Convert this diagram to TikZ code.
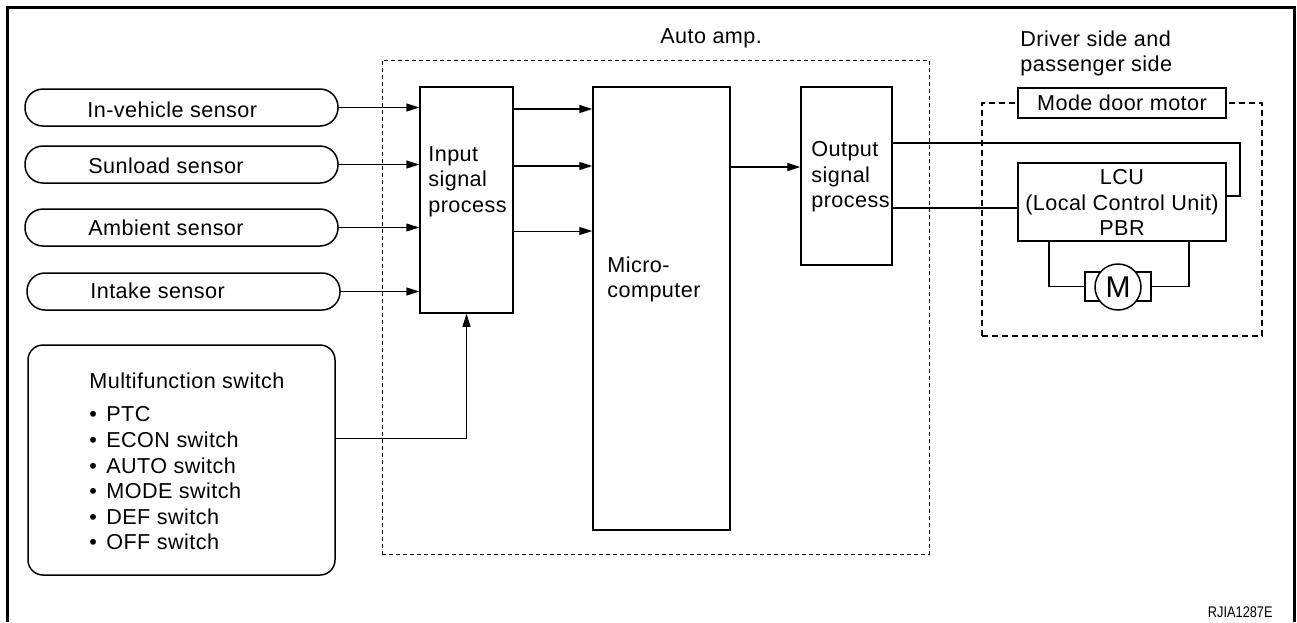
\documentclass[tikz,border=0pt]{standalone}
\usepackage{fontspec}
\setmainfont[LetterSpace=2]{Liberation Sans}
\newfontfamily\narrowfont[FakeStretch=0.83]{Liberation Sans}
\usetikzlibrary{arrows.meta}
\begin{document}
\begin{tikzpicture}[x=0.5pt,y=-0.5pt,
 txt/.style={inner sep=0pt, font=\fontsize{10.8pt}{12.6pt}\selectfont},
 box/.style={draw, line width=0.75pt, inner sep=0pt},
 pill/.style={box, rounded corners=9pt, minimum width=156.5pt, minimum height=18.5pt},
 arr/.style={line width=0.8pt, -{Triangle[length=6.5pt,width=4pt]}},
 thinarr/.style={arr, line width=0.5pt},
 wire/.style={line width=0.75pt},
 ampbox/.style={draw, dash pattern=on 2pt off 1.5pt, line width=0.5pt, inner sep=0pt},
 drvbox/.style={draw, dash pattern=on 3pt off 2pt, line width=0.8pt, inner sep=0pt},
]
\useasboundingbox (0,0) rectangle (1297,622);
% outer frame
\draw[line width=1.5pt] (7,622) -- (7,7) -- (1294.5,7) -- (1294.5,622);

% group boxes
\node[ampbox, minimum width=273.5pt, minimum height=247pt] (amp) at (655.5,307) {};
\node[txt, anchor=base west] (amplbl) at (660,43.5) {Auto amp.};
\node[drvbox, minimum width=140pt, minimum height=116.5pt] (drv) at (1122,219.5) {};
\node[txt, anchor=north west, align=left] (drvlbl) at (1020,30.5) {Driver side and\\passenger side};

% sensors
\node[pill] (s1) at (181.5,107.5) {};
\node[txt, anchor=base west] (t1) at (87,117) {In-vehicle sensor};
\node[pill] (s2) at (181.5,164.5) {};
\node[txt, anchor=base west] (t2) at (88,173) {Sunload sensor};
\node[pill] (s3) at (181.5,227.5) {};
\node[txt, anchor=base west] (t3) at (88,235) {Ambient sensor};
\node[pill] (s4) at (183.5,291.5) {};
\node[txt, anchor=base west] (t4) at (90,298) {Intake sensor};

% multifunction switch
\node[box, rounded corners=7.5pt, minimum width=153.5pt, minimum height=115pt] (mf) at (181.5,460) {};
\node[txt, anchor=north west] (mft) at (89,372) {Multifunction switch};
\node[txt, anchor=north west, align=left, font=\fontsize{10.8pt}{12.8pt}\selectfont] (mfl) at (89,406.5)
 {\makebox[8.5pt][l]{\textbullet}PTC\\
  \makebox[8.5pt][l]{\textbullet}ECON switch\\
  \makebox[8.5pt][l]{\textbullet}AUTO switch\\
  \makebox[8.5pt][l]{\textbullet}MODE switch\\
  \makebox[8.5pt][l]{\textbullet}DEF switch\\
  \makebox[8.5pt][l]{\textbullet}OFF switch};

% auto amp internals
\node[box, minimum width=46.5pt, minimum height=113pt] (in) at (466.5,200) {};
\node[txt, anchor=north west, align=left] (intxt) at (428,146.5) {Input\\signal\\process};
\node[box, minimum width=68.5pt, minimum height=221.5pt] (mc) at (661.5,308.5) {};
\node[txt, anchor=north west, align=left] (mctxt) at (607,256.5) {Micro-\\computer};
\node[box, minimum width=45.5pt, minimum height=89pt] (out) at (846.5,176) {};
\node[txt, anchor=north west, align=left] (outtxt) at (811,141.5) {Output\\signal\\process};

% right side
\node[box, fill=white, minimum width=104pt, minimum height=15pt, font=\fontsize{10.8pt}{12.6pt}\selectfont] (mode) at (1122,103) {Mode door motor};
\node[box, minimum width=104pt, minimum height=39pt] (lcu) at (1122,202) {};
\node[txt, anchor=north, align=center] (lcutxt) at (1122,169.5) {LCU\\(Local Control Unit)\\PBR};
\node[box, minimum width=33pt, minimum height=14.5pt] (mrect) at (1118,286.5) {};
\node[box, circle, fill=white, minimum size=23pt, font=\fontsize{15pt}{15pt}\selectfont] (mot) at (1118,287) {M};

% connectors
\draw[arr] (s1.east) -- (s1.east -| in.west);
\draw[arr] (s2.east) -- (s2.east -| in.west);
\draw[thinarr] (s3.east) -- (s3.east -| in.west);
\draw[arr] (s4.east) -- (s4.east -| in.west);
\draw[thinarr] (mf.east |- 0,438) -| (in.south);
\draw[arr] (in.east |- 0,109) -- (mc.west |- 0,109);
\draw[arr] (in.east |- 0,166) -- (mc.west |- 0,166);
\draw[thinarr] (in.east |- 0,231) -- (mc.west |- 0,231);
\draw[arr] (mc.east |- 0,167) -- (out.west |- 0,167);
\draw[wire] (out.east |- 0,143) -- (1240,143) |- (lcu.east |- 0,196);
\draw[wire] (out.east |- 0,208) -- (lcu.west |- 0,208);
\draw[wire] (lcu.south -| 1049,0) |- (mrect.west);
\draw[wire] (lcu.south -| 1189,0) |- (mrect.east);

% code
\node[anchor=base east, inner sep=0pt, font=\narrowfont\fontsize{7.7pt}{8pt}\selectfont] (code) at (1273,617) {RJIA1287E};
\end{tikzpicture}
\end{document}
